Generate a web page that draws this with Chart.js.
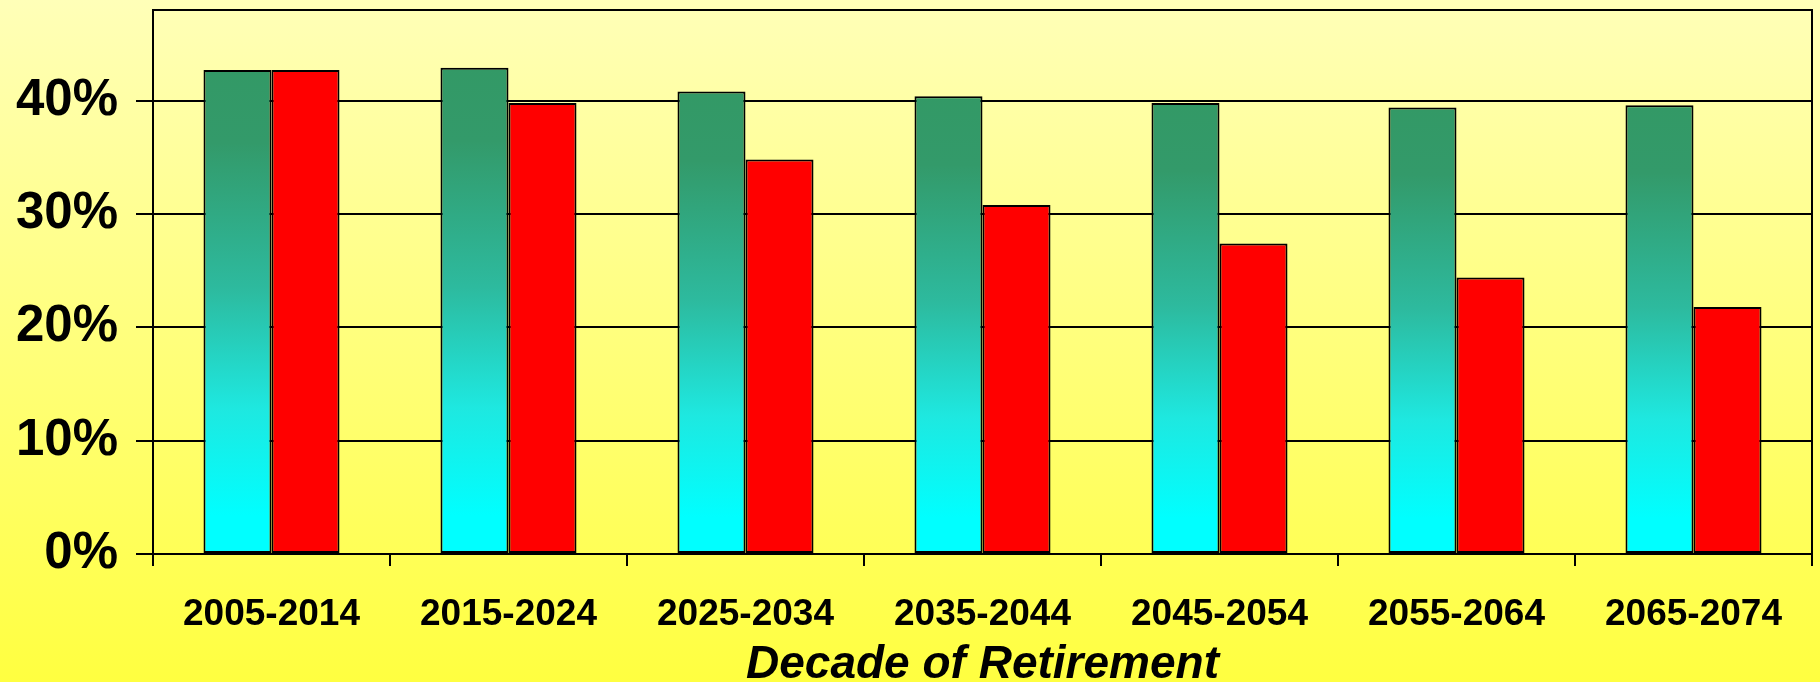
<!DOCTYPE html>
<html lang="en">
<head>
    <meta charset="UTF-8">
    <title>Decade of Retirement</title>
    <script src="https://cdn.jsdelivr.net/npm/chart.js"></script>
    <style>
        * {
            margin: 0;
            padding: 0;
            box-sizing: border-box;
        }

        body {
            width: 1820px;
            height: 682px;
            overflow: hidden;
            background: linear-gradient(180deg, #ffffb8 0%, #ffff40 100%);
        }

        .chart-box {
            position: relative;
            width: 1820px;
            height: 682px;
        }
    </style>
</head>
<body>
    <div class="chart-box">
        <canvas id="retireChart"></canvas>
    </div>

    <script>
        // Data
        const decades = ['2005-2014', '2015-2024', '2025-2034', '2035-2044', '2045-2054', '2055-2064', '2065-2074'];
        const greenSeries = [42.7, 42.9, 40.8, 40.4, 39.8, 39.4, 39.6];
        const redSeries = [42.7, 39.8, 34.8, 30.8, 27.4, 24.4, 21.8];
        const yTicks = [0, 10, 20, 30, 40];
        const xTitle = 'Decade of Retirement';

        const fontFamily = "'Liberation Sans', Arial, sans-serif";

        // Per-bar gradient: sea green at the top fading to cyan at the base
        function greenFill(context) {
            const chart = context.chart;
            const area = chart.chartArea;
            if (!area || context.raw === undefined) {
                return '#2db99b';
            }
            const yScale = chart.scales.y;
            const top = yScale.getPixelForValue(context.raw);
            const bottom = yScale.getPixelForValue(0);
            const grad = chart.ctx.createLinearGradient(0, top, 0, bottom);
            grad.addColorStop(0, '#339966');
            grad.addColorStop(0.15, '#339a6a');
            grad.addColorStop(0.45, '#2dba9e');
            grad.addColorStop(0.7, '#1ee8e0');
            grad.addColorStop(0.92, '#00ffff');
            grad.addColorStop(1, '#00ffff');
            return grad;
        }

        // Closes the plot frame on top and right
        const frame = {
            id: 'frame',
            afterDatasetsDraw(chart) {
                const { ctx, chartArea } = chart;
                ctx.save();
                ctx.strokeStyle = '#000';
                ctx.lineWidth = 2;
                ctx.beginPath();
                ctx.moveTo(chartArea.left, chartArea.top);
                ctx.lineTo(chartArea.right, chartArea.top);
                ctx.lineTo(chartArea.right, chartArea.bottom);
                ctx.stroke();
                ctx.restore();
            }
        };

        const ctx = document.getElementById('retireChart').getContext('2d');
        new Chart(ctx, {
            type: 'bar',
            data: {
                labels: decades,
                datasets: [{
                    label: 'Series 1',
                    data: greenSeries,
                    backgroundColor: greenFill,
                    borderColor: '#000',
                    borderWidth: 2,
                    borderSkipped: false
                }, {
                    label: 'Series 2',
                    data: redSeries,
                    backgroundColor: '#ff0000',
                    borderColor: '#000',
                    borderWidth: 2,
                    borderSkipped: false
                }]
            },
            options: {
                responsive: true,
                maintainAspectRatio: false,
                animation: false,
                layout: {
                    padding: { top: 10, right: 8, left: 0, bottom: 0 }
                },
                datasets: {
                    bar: {
                        barPercentage: 1,
                        categoryPercentage: 0.574
                    }
                },
                scales: {
                    x: {
                        grid: {
                            offset: true,
                            drawOnChartArea: false,
                            tickLength: 12,
                            color: '#000',
                            lineWidth: 2
                        },
                        border: { color: '#000', width: 2 },
                        ticks: {
                            color: '#000',
                            padding: 27,
                            maxRotation: 0,
                            font: { family: fontFamily, size: 37, weight: 'bold' }
                        },
                        title: {
                            display: true,
                            text: xTitle,
                            color: '#000',
                            padding: { top: 0, bottom: 0 },
                            font: { family: fontFamily, size: 46, weight: 'bold', style: 'italic', lineHeight: '34px' }
                        },
                        afterFit(scale) {
                            scale.height = 128;
                        }
                    },
                    y: {
                        min: 0,
                        max: 48,
                        grid: {
                            color: '#000',
                            lineWidth: 2,
                            tickLength: 17
                        },
                        border: { color: '#000', width: 2 },
                        ticks: {
                            stepSize: 10,
                            color: '#000',
                            padding: 18,
                            font: { family: fontFamily, size: 51, weight: 'bold' },
                            callback: value => value + '%'
                        },
                        afterBuildTicks(scale) {
                            scale.ticks = yTicks.map(v => ({ value: v }));
                        },
                        afterFit(scale) {
                            scale.width = 153;
                            scale.paddingTop = 0;
                            scale.paddingBottom = 0;
                        }
                    }
                },
                plugins: {
                    legend: { display: false },
                    tooltip: { enabled: false }
                }
            },
            plugins: [frame]
        });
    </script>
</body>
</html>
